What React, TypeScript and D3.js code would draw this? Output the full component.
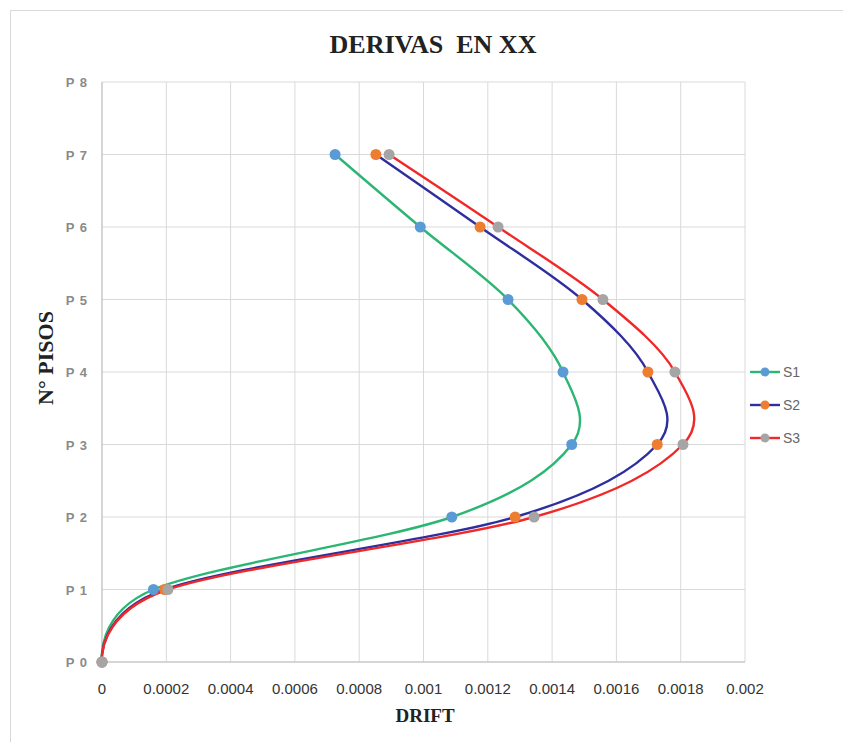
import * as d3 from "d3";

const floors = ["P 0", "P 1", "P 2", "P 3", "P 4", "P 5", "P 6", "P 7", "P 8"];
const xTicks = [0, 0.0002, 0.0004, 0.0006, 0.0008, 0.001, 0.0012, 0.0014, 0.0016, 0.0018, 0.002];

// drift per floor P0..P7
const s1 = [0, 0.00016, 0.001088, 0.001461, 0.001434, 0.001263, 0.00099, 0.000725];
const s2 = [0, 0.000195, 0.001285, 0.001727, 0.001698, 0.001493, 0.001176, 0.000852];
const s3 = [0, 0.000205, 0.001344, 0.001807, 0.001782, 0.001558, 0.001232, 0.000893];

const series = [
  { name: "S1", values: s1, line: "#2BB673", marker: "#5B9BD5" },
  { name: "S2", values: s2, line: "#2E2E9E", marker: "#ED7D31" },
  { name: "S3", values: s3, line: "#F02828", marker: "#A5A5A5" },
];

export default function App() {
  const W = 843;
  const H = 742;
  const x = d3.scaleLinear().domain([0, 0.002]).range([102, 745]);
  const y = d3.scaleLinear().domain([0, 8]).range([662, 82]);

  // Excel-like smoothing (uniform Catmull-Rom)
  const line = d3
    .line<number>()
    .x((d) => x(d))
    .y((_, i) => y(i))
    .curve(d3.curveCatmullRom.alpha(0));

  const fmt = (v: number) => (v === 0 ? "0" : String(+v.toFixed(4)));

  return (
    <svg
      width={W}
      height={H}
      style={{ position: "absolute", left: 0, top: 0, background: "#fff" }}
    >
      <rect x={10.5} y={10.5} width={900} height={900} fill="#fff" stroke="#d9d9d9" />
      <text
        x={433}
        y={53}
        textAnchor="middle"
        fontFamily="Liberation Serif, serif"
        fontWeight="bold"
        fontSize={26}
        fill="#222"
        style={{ whiteSpace: "pre" }}
      >
        DERIVAS  EN XX
      </text>

      {/* grid */}
      {xTicks.map((t) => (
        <line key={"gx" + t} x1={x(t)} x2={x(t)} y1={y(8)} y2={y(0)} stroke="#d9d9d9" />
      ))}
      {floors.map((f, i) => (
        <line key={"gy" + f} x1={x(0)} x2={x(0.002)} y1={y(i)} y2={y(i)} stroke="#d9d9d9" />
      ))}
      <line x1={x(0)} x2={x(0)} y1={y(8)} y2={y(0)} stroke="#bfbfbf" />
      <line x1={x(0)} x2={x(0.002)} y1={y(0)} y2={y(0)} stroke="#bfbfbf" />

      {/* y tick labels */}
      {floors.map((f, i) => (
        <text
          key={"ty" + f}
          x={88}
          y={y(i) + 5}
          textAnchor="end"
          fontFamily="Liberation Sans, sans-serif"
          fontWeight="bold"
          fontSize={13}
          letterSpacing={1}
          fill="#8a8a8a"
          style={{ whiteSpace: "pre" }}
        >
          {f}
        </text>
      ))}

      {/* x tick labels */}
      {xTicks.map((t) => (
        <text
          key={"tx" + t}
          x={x(t)}
          y={694}
          textAnchor="middle"
          fontFamily="Liberation Sans, sans-serif"
          fontSize={15}
          fill="#333"
        >
          {fmt(t)}
        </text>
      ))}

      <text
        x={425}
        y={722}
        textAnchor="middle"
        fontFamily="Liberation Serif, serif"
        fontWeight="bold"
        fontSize={19}
        fill="#222"
      >
        DRIFT
      </text>
      <text
        transform="translate(53,358) rotate(-90)"
        textAnchor="middle"
        fontFamily="Liberation Serif, serif"
        fontWeight="bold"
        fontSize={22}
        fill="#222"
      >
        N° PISOS
      </text>

      {/* series */}
      {series.map((s) => (
        <path key={s.name} d={line(s.values) || ""} fill="none" stroke={s.line} strokeWidth={2.4} />
      ))}
      {series.map((s) =>
        s.values.map((v, i) => (
          <circle key={s.name + i} cx={x(v)} cy={y(i)} r={5.5} fill={s.marker} />
        ))
      )}

      {/* legend */}
      {series.map((s, i) => (
        <g key={"lg" + s.name} transform={`translate(750,${372 + i * 33})`}>
          <line x1={0} x2={30} y1={0} y2={0} stroke={s.line} strokeWidth={2.4} />
          <circle cx={15} cy={0} r={4.5} fill={s.marker} />
          <text x={33} y={5} fontFamily="Liberation Sans Narrow, sans-serif" fontSize={14} fill="#666">
            {s.name}
          </text>
        </g>
      ))}
    </svg>
  );
}
